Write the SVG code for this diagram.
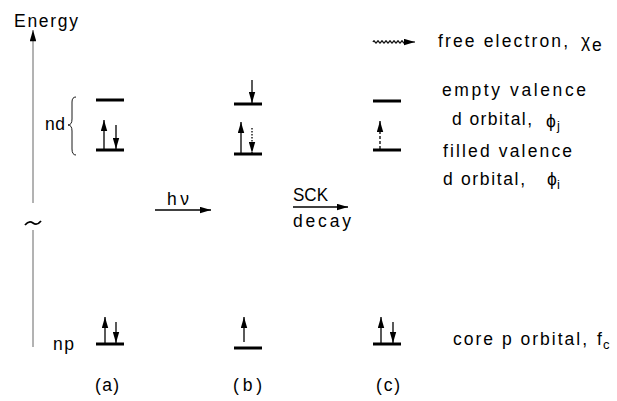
<svg xmlns="http://www.w3.org/2000/svg" width="617" height="401" viewBox="0 0 617 401">
<style>
text{font-family:"Liberation Sans",Arial,sans-serif;font-size:17.5px;fill:#000}
.lvl{stroke:#000;stroke-width:3;fill:none}
.ar{stroke:#000;stroke-width:1.3;fill:none;marker-end:url(#ah)}
.dot{stroke-dasharray:1.5,1.5}
.dash{stroke-dasharray:3,2}
.ax{stroke:#555;stroke-width:0.9;fill:none}
.sub{font-size:13px}
</style>
<defs>
<marker id="ah" viewBox="0 0 12 7" refX="12" refY="3.5" markerWidth="11" markerHeight="7" markerUnits="userSpaceOnUse" orient="auto"><path d="M0,0 L12,3.5 L0,7 z" fill="#000"/></marker>
<marker id="ahs" viewBox="0 0 12 7" refX="12" refY="3.5" markerWidth="12" markerHeight="6.5" markerUnits="userSpaceOnUse" orient="auto"><path d="M0,0 L12,3.5 L0,7 z" fill="#000"/></marker>
</defs>
<g id="axis">
<text x="14" y="27" font-size="18" textLength="64" lengthAdjust="spacing">Energy</text>
<line class="ax" x1="33" y1="203" x2="33" y2="30" marker-end="url(#ahs)"/>
<path d="M25,225 q4,-5 8,-2 t8,-2" fill="none" stroke="#000" stroke-width="1.8"/>
<line class="ax" x1="33" y1="230" x2="33" y2="347"/>
<text x="45" y="130" textLength="20" lengthAdjust="spacing">nd</text>
<path d="M76,97 q-4,0 -4,5 v17 q0,6 -4,6 q4,0 4,6 v18 q0,6 4,6" fill="none" stroke="#000" stroke-width="0.9"/>
<text x="53" y="350" textLength="21" lengthAdjust="spacing">np</text>
</g>
<g id="state-a">
<line class="lvl" x1="96" y1="100" x2="124" y2="100"/>
<line class="lvl" x1="96" y1="150" x2="124" y2="150"/>
<line class="lvl" x1="96" y1="344" x2="124" y2="344"/>
<line class="ar" x1="104" y1="149" x2="104" y2="120"/>
<line class="ar" x1="116" y1="125" x2="116" y2="149"/>
<line class="ar" x1="105" y1="343" x2="105" y2="317"/>
<line class="ar" x1="116" y1="322" x2="116" y2="343" stroke-width="0.9"/>
<text x="95" y="391" textLength="24" lengthAdjust="spacing">(a)</text>
</g>
<g id="state-b">
<line class="lvl" x1="234" y1="104" x2="262" y2="104"/>
<line class="lvl" x1="234" y1="154" x2="262" y2="154"/>
<line class="lvl" x1="234" y1="348" x2="262" y2="348"/>
<line class="ar" x1="252" y1="80" x2="252" y2="103" stroke-width="0.9"/>
<line class="ar" x1="241" y1="153" x2="241" y2="122"/>
<line class="ar dot" x1="252" y1="128" x2="252" y2="153"/>
<line class="ar" x1="244" y1="342" x2="244" y2="317" stroke="#777"/>
<text x="233" y="391" textLength="29" lengthAdjust="spacing">(b)</text>
</g>
<g id="state-c">
<line class="lvl" x1="373" y1="101" x2="401" y2="101"/>
<line class="lvl" x1="373" y1="150" x2="401" y2="150"/>
<line class="lvl" x1="373" y1="344" x2="401" y2="344"/>
<line class="ar dash" x1="380" y1="149" x2="380" y2="121"/>
<line class="ar" x1="381" y1="343" x2="381" y2="317"/>
<line class="ar" x1="393" y1="322" x2="393" y2="343" stroke-width="0.9"/>
<text x="376" y="391" textLength="24" lengthAdjust="spacing">(c)</text>
</g>
<g id="legend">
<path d="M373,42 q1,-2.2 2,0 t2,0 t2,0 t2,0 t2,0 t2,0 t2,0 t2,0 t2,0 t2,0 t2,0 t2,0 t2,0 t2,0 t2,0 t2,0 L415,42" fill="none" stroke="#000" stroke-width="1.2" marker-end="url(#ah)"/>
<text x="438" y="47" textLength="130" lengthAdjust="spacing">free electron,</text>
<text x="581" y="47" font-size="18">χ</text>
<text x="592" y="51">e</text>
<text x="442" y="96" textLength="144" lengthAdjust="spacing">empty valence</text>
<text x="452" y="125" textLength="80" lengthAdjust="spacing">d orbital,</text>
<text x="546" y="127">ϕ</text>
<text x="557" y="130" class="sub">j</text>
<text x="443" y="157" textLength="129" lengthAdjust="spacing">filled valence</text>
<text x="443" y="185" textLength="82" lengthAdjust="spacing">d orbital,</text>
<text x="547" y="185">ϕ</text>
<text x="557" y="189" class="sub">i</text>
<text x="453" y="345" textLength="134" lengthAdjust="spacing">core p orbital,</text>
<text x="597" y="345">f</text>
<text x="603" y="349" class="sub">c</text>
</g>
<g id="connectors">
<line class="ar" x1="155" y1="210" x2="211" y2="210"/>
<text x="167" y="205" textLength="22" lengthAdjust="spacing">hν</text>
<line class="ar" x1="293" y1="207" x2="348" y2="207"/>
<text x="293" y="201" font-size="16" textLength="35" lengthAdjust="spacingAndGlyphs">SCK</text>
<text x="293" y="227" textLength="58" lengthAdjust="spacing">decay</text>
</g>
</svg>
